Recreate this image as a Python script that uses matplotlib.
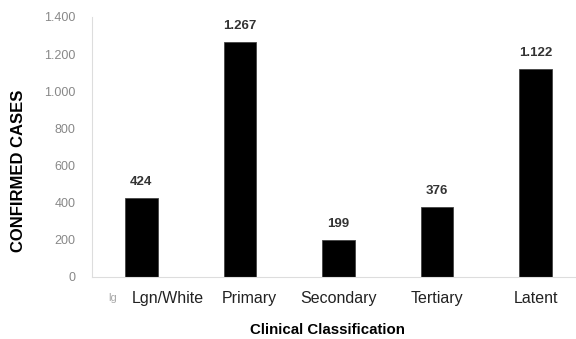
import matplotlib.pyplot as plt
from matplotlib.ticker import FuncFormatter
from matplotlib.transforms import ScaledTranslation

plt.rcParams["font.family"] = ["Liberation Sans", "DejaVu Sans"]

# data
categories = ["Lgn/White", "Primary", "Secondary", "Tertiary", "Latent"]
cases = [424, 1267, 199, 376, 1122]
yticks = [0, 200, 400, 600, 800, 1000, 1200, 1400]
label_shift_px = [26, 9, 0, 0, 0]  # tick labels sit a bit right in the original


def dot_thousands(v, pos=None):
    return f"{int(v):,}".replace(",", ".")


fig = plt.figure(figsize=(5.76, 3.39), dpi=100)
ax = fig.add_axes([0.16, 0.183, 0.84, 0.767])

x = range(len(categories))
ax.bar(x, cases, width=0.33, color="black", edgecolor="#444444", linewidth=0.6)

for xi, v in zip(x, cases):
    ax.annotate(dot_thousands(v), (xi, v), xytext=(0, 7), textcoords="offset points",
                ha="center", va="bottom", fontsize=9.5, fontweight="bold", color="#333333")

ax.set_xlim(-0.5, 4.41)
ax.set_ylim(0, 1400)
ax.set_yticks(yticks)
ax.yaxis.set_major_formatter(FuncFormatter(dot_thousands))
ax.set_xticks(list(x))
ax.set_xticklabels(categories, fontsize=11.5, color="#222222")
ax.tick_params(axis="y", labelsize=9, labelcolor="#888888", length=0, pad=12)
ax.tick_params(axis="x", length=0, pad=10)

for lbl, dx in zip(ax.get_xticklabels(), label_shift_px):
    lbl.set_transform(lbl.get_transform() + ScaledTranslation(dx / 100, 0, fig.dpi_scale_trans))

for s in ["top", "right"]:
    ax.spines[s].set_visible(False)
for s in ["left", "bottom"]:
    ax.spines[s].set_color("#dddddd")
    ax.spines[s].set_linewidth(0.8)

ax.set_ylabel("CONFIRMED CASES", fontsize=12, fontweight="bold")
ax.yaxis.set_label_coords(-0.136, 0.408)
fig.text(327 / 576, 1 - 330 / 339, "Clinical Classification", fontsize=10.8,
         fontweight="bold", ha="center", va="center")

# small stray mark left of the first label
fig.text(113 / 576, 1 - 298 / 339, "lg", fontsize=8, color="#aaaaaa", ha="center", va="center")

fig.savefig("out.png", dpi=100)
